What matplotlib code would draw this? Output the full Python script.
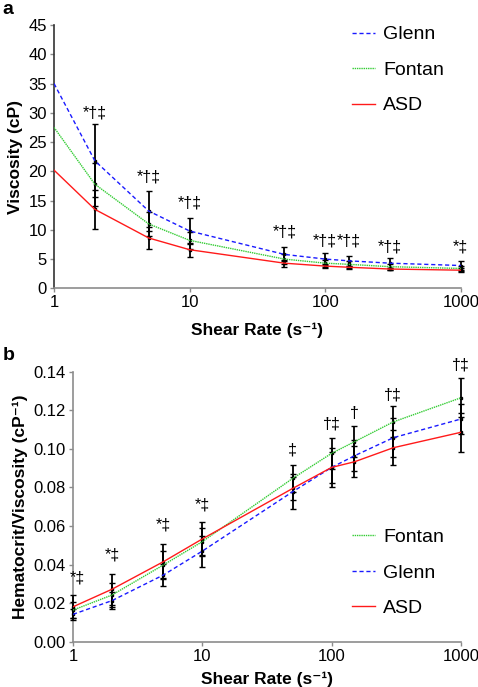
import matplotlib
matplotlib.use("Agg")
from matplotlib import pyplot as plt

plt.rcParams['font.family'] = ['Liberation Sans', 'DejaVu Sans']

shear = [1, 2, 5, 10, 50, 100, 150, 300, 1000]

# panel a: viscosity (cP)
visc_glenn = [35.0, 21.8, 13.2, 9.8, 5.8, 5.0, 4.7, 4.3, 3.9]
visc_glenn_sd = [0, 6.2, 3.4, 2.2, 1.2, 1.0, 0.9, 0.9, 0.7]
visc_fontan = [27.5, 17.8, 11.0, 8.2, 5.0, 4.3, 4.1, 3.7, 3.4]
visc_fontan_sd = [0, 3.7, 2.0, 1.5, 0.8, 0.6, 0.6, 0.5, 0.4]
visc_asd = [20.2, 13.5, 8.6, 6.6, 4.3, 3.8, 3.6, 3.3, 3.1]
visc_asd_sd = [0, 3.3, 1.8, 1.2, 0.6, 0.4, 0.3, 0.2, 0.3]
visc_marks = ["", "*†‡", "*†‡", "*†‡", "*†‡", "*†‡", "*†‡", "*†‡", "*‡"]
visc_mark_y = [0, 30.0, 19.0, 14.5, 9.6, 8.1, 8.1, 7.1, 7.1]

# panel b: hematocrit / viscosity (1/cP)
hv_fontan = [0.0164, 0.0242, 0.0398, 0.0519, 0.0847, 0.0977, 0.1037, 0.1140, 0.1265]
hv_fontan_sd = [0.004, 0.006, 0.007, 0.007, 0.007, 0.008, 0.008, 0.008, 0.010]
hv_glenn = [0.0142, 0.0213, 0.0346, 0.0470, 0.0778, 0.0904, 0.0964, 0.1058, 0.1155]
hv_glenn_sd = [0.003, 0.0045, 0.0056, 0.008, 0.009, 0.010, 0.008, 0.010, 0.008]
hv_asd = [0.0181, 0.0272, 0.0415, 0.0533, 0.0795, 0.0904, 0.0933, 0.1006, 0.1086]
hv_asd_sd = [0.006, 0.008, 0.009, 0.0087, 0.006, 0.008, 0.008, 0.009, 0.010]
hv_marks = ["*‡", "*‡", "*‡", "*‡", "‡", "†‡", "†", "†‡", "†‡"]
hv_mark_y = [0.033, 0.045, 0.0605, 0.071, 0.0994, 0.1129, 0.1184, 0.128, 0.1435]

BLUE = '#1a1aff'
GREEN = '#33cc33'
RED = '#ff1a1a'

fig = plt.figure(figsize=(4.78, 6.87), dpi=100)
ax_a = fig.add_axes([0.113, 0.5803, 0.851, 0.3833])
ax_b = fig.add_axes([0.1527, 0.0659, 0.8117, 0.393])


def style_axes(ax):
    ax.set_xscale('log')
    ax.set_xlim(1, 1000)
    ax.set_xticks([1, 10, 100, 1000])
    ax.set_xticklabels(['1', '10', '100', '1000'])
    ax.minorticks_off()
    for side in ['top', 'right']:
        ax.spines[side].set_visible(False)
    for side in ['left', 'bottom']:
        ax.spines[side].set_color('#8c8c8c')
        ax.spines[side].set_linewidth(1.2)
    ax.tick_params(direction='out', length=3, width=1, color='#8c8c8c',
                   labelsize=12, pad=2)


def draw_errbars(ax, x, means, sds):
    eb = ax.errorbar(x, means, yerr=sds, fmt='s', color='black', ms=2,
                     ecolor='black', elinewidth=1.3, capsize=2, capthick=1.0, zorder=3)
    for art in (eb.lines[0],) + eb.lines[1] + eb.lines[2]:
        art.set_clip_on(False)


label_font = dict(fontsize=12.5, fontweight='bold')
legend_opts = dict(loc='upper left', bbox_transform=fig.transFigure, frameon=False,
                   fontsize=14, handlelength=1.2, handletextpad=0.4, labelspacing=0.92)

# ---- panel a ----
ax_a.plot(shear, visc_glenn, color=BLUE, ls=(0, (3, 2)), lw=1.0, label='Glenn', zorder=4)
ax_a.plot(shear, visc_fontan, color=GREEN, ls=(0, (1, 0.6)), lw=1.0, label='Fontan', zorder=4)
ax_a.plot(shear, visc_asd, color=RED, ls='-', lw=1.0, label='ASD', zorder=4)
for means, sds in [(visc_glenn, visc_glenn_sd), (visc_fontan, visc_fontan_sd), (visc_asd, visc_asd_sd)]:
    draw_errbars(ax_a, shear[1:], means[1:], sds[1:])
for x, y, s in zip(shear, visc_mark_y, visc_marks):
    if s:
        ax_a.text(x, y, s, ha='center', va='center', fontsize=11.5)
ax_a.set_ylim(0, 45)
ax_a.set_yticks(range(0, 50, 5))
style_axes(ax_a)
ax_a.spines['left'].set_color('#333333')
ax_a.set_xlabel('Shear Rate (s\u207b\u00b9)', labelpad=9, **label_font)
ax_a.set_ylabel('Viscosity (cP)', labelpad=4, **label_font)
ax_a.legend(bbox_to_anchor=(0.70, 0.988), **legend_opts)
fig.text(0.006, 0.986, 'a', fontsize=14, fontweight='bold', va='center')

# ---- panel b ----
ax_b.plot(shear, hv_fontan, color=GREEN, ls=(0, (1, 0.6)), lw=1.0, label='Fontan', zorder=4)
ax_b.plot(shear, hv_glenn, color=BLUE, ls=(0, (3, 2)), lw=1.0, label='Glenn', zorder=4)
ax_b.plot(shear, hv_asd, color=RED, ls='-', lw=1.0, label='ASD', zorder=4)
for means, sds in [(hv_fontan, hv_fontan_sd), (hv_glenn, hv_glenn_sd), (hv_asd, hv_asd_sd)]:
    draw_errbars(ax_b, shear, means, sds)
for x, y, s in zip(shear, hv_mark_y, hv_marks):
    ax_b.text(x * (1.08 if x == 1 else 1.0), y, s, ha='center', va='center', fontsize=11.5)
ax_b.set_ylim(0, 0.14)
hv_ticks = [0.0, 0.02, 0.04, 0.06, 0.08, 0.10, 0.12, 0.14]
ax_b.set_yticks(hv_ticks)
ax_b.set_yticklabels(['%.2f' % v for v in hv_ticks])
style_axes(ax_b)
ax_b.set_xlabel('Shear Rate (s\u207b\u00b9)', labelpad=6, **label_font)
ax_b.set_ylabel('Hematocrit/Viscosity (cP\u207b\u00b9)', labelpad=4, **label_font)
ax_b.legend(bbox_to_anchor=(0.70, 0.256), **legend_opts)
fig.text(0.006, 0.483, 'b', fontsize=14, fontweight='bold', va='center')

fig.savefig('out.png', dpi=100)
